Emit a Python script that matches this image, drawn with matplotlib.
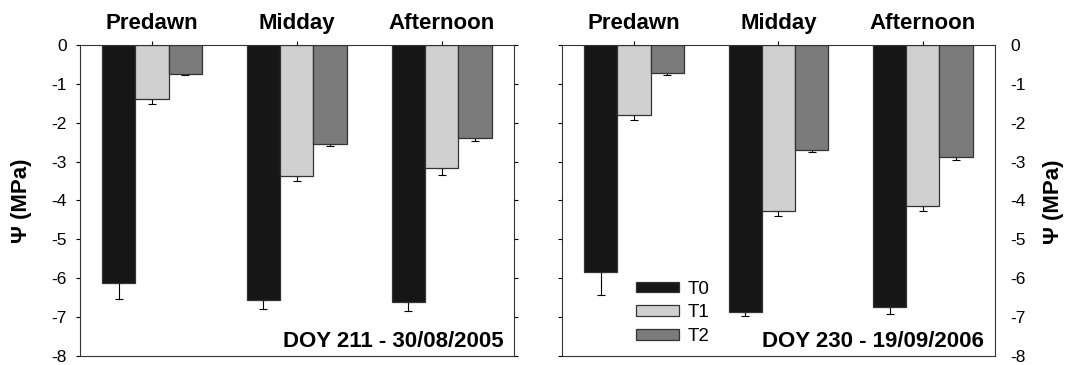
import numpy as np
import matplotlib.pyplot as plt

plt.rcParams['font.family'] = ['Liberation Sans', 'DejaVu Sans']
plt.rcParams['axes.unicode_minus'] = False

periods = ["Predawn", "Midday", "Afternoon"]
treatments = ["T0", "T1", "T2"]
colors = ["#161616", "#d0d0d0", "#7b7b7b"]

# water potential (MPa), one list per treatment: Predawn, Midday, Afternoon
psi_2005 = {
    "T0": [-6.13, -6.57, -6.62],
    "T1": [-1.39, -3.36, -3.17],
    "T2": [-0.74, -2.54, -2.38],
}
err_2005 = {
    "T0": [0.41, 0.23, 0.21],
    "T1": [0.12, 0.14, 0.17],
    "T2": [0.04, 0.07, 0.08],
}
psi_2006 = {
    "T0": [-5.83, -6.88, -6.75],
    "T1": [-1.81, -4.28, -4.14],
    "T2": [-0.73, -2.69, -2.88],
}
err_2006 = {
    "T0": [0.60, 0.09, 0.17],
    "T1": [0.12, 0.12, 0.12],
    "T2": [0.03, 0.07, 0.07],
}
dates = ["DOY 211 - 30/08/2005", "DOY 230 - 19/09/2006"]

fig = plt.figure(figsize=(10.7, 3.65), dpi=100)
ax1 = fig.add_axes([0.0743, 0.0247, 0.4061, 0.852])
ax2 = fig.add_axes([0.525, 0.0247, 0.405, 0.852])

x = np.arange(len(periods))
w = 0.23

for ax, psi, err, date in [(ax1, psi_2005, err_2005, dates[0]),
                           (ax2, psi_2006, err_2006, dates[1])]:
    for i, t in enumerate(treatments):
        pos = x + (i - 1) * w
        ax.bar(pos, psi[t], width=w, color=colors[i], edgecolor="#333333",
               linewidth=0.9, label=t, zorder=2)
        lower = np.array(err[t])
        ax.errorbar(pos, psi[t], yerr=[lower, np.zeros_like(lower)],
                    fmt="none", ecolor="black", elinewidth=0.8,
                    capsize=3.2, capthick=0.8, zorder=1)
    ax.set_xlim(-0.5, 2.5)
    ax.set_ylim(-8, 0)
    ax.set_yticks(np.arange(-8, 1, 1))
    ax.set_xticks(x)
    ax.set_xticklabels(periods, fontsize=16, fontweight="bold")
    ax.xaxis.tick_top()
    ax.tick_params(axis="x", direction="out", length=3, width=0.8, pad=5)
    ax.tick_params(axis="y", direction="out", length=3, width=0.8,
                   labelsize=12.5, pad=6)
    for s in ax.spines.values():
        s.set_linewidth(0.8)
        s.set_color("#333333")
    ax.text(0.975, 0.03, date, transform=ax.transAxes, ha="right",
            va="baseline", fontsize=16, fontweight="bold")

ax1.tick_params(axis="y", left=True, right=True,
                labelleft=True, labelright=False)
ax1.set_ylabel("Ψ (MPa)", fontsize=16, fontweight="bold")
ax1.yaxis.set_label_coords(-0.109, 0.5)

ax2.tick_params(axis="y", left=True, right=False,
                labelleft=False, labelright=True, pad=8)
ax2.yaxis.set_label_position("right")
ax2.set_ylabel("Ψ (MPa)", fontsize=16, fontweight="bold")
ax2.yaxis.set_label_coords(1.111, 0.495)

ax2.legend(loc="lower left", bbox_to_anchor=(0.171, 0.035), frameon=False,
           fontsize=13.5, handlelength=2.3, handleheight=0.48,
           labelspacing=0.36, handletextpad=0.48, borderpad=0,
           borderaxespad=0)

fig.savefig("out.png", dpi=100)
plt.close(fig)
